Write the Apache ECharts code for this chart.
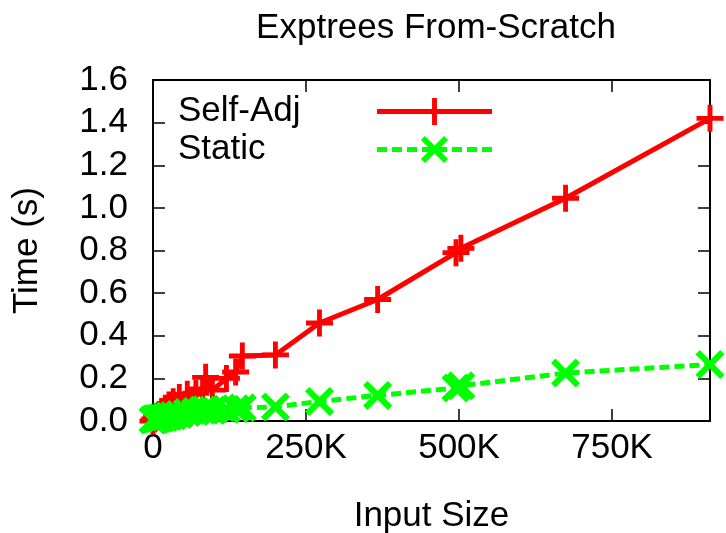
<!DOCTYPE html>
<html>
<head>
<meta charset="utf-8">
<script src="https://cdn.jsdelivr.net/npm/echarts@6/dist/echarts.min.js"></script>
<style>html,body{margin:0;padding:0;background:#fff}#c{width:726px;height:533px}</style>
</head>
<body>
<div id="c"></div>
<script>
// Data
var titleText = 'Exptrees From-Scratch';
var xName = 'Input Size';
var yName = 'Time (s)';
var seriesNames = ['Self-Adj', 'Static'];
var xTicks = [0, 250000, 500000, 750000];
var yTicks = ['0.0','0.2','0.4','0.6','0.8','1.0','1.2','1.4','1.6'];

var selfAdjX = [0, 3000, 6000, 10000, 14000, 20000, 26000, 33000, 43000, 56000, 70000, 81000, 86000, 97000, 120000, 135000, 146000, 200000, 272000, 367000, 495000, 503000, 674000, 910000];
var selfAdjY = [0.0, 0.01, 0.02, 0.03, 0.045, 0.06, 0.075, 0.09, 0.11, 0.125, 0.13, 0.15, 0.205, 0.145, 0.2, 0.23, 0.305, 0.31, 0.46, 0.57, 0.79, 0.81, 1.045, 1.42];

var staticX = [0, 3000, 6000, 10000, 14000, 20000, 26000, 33000, 43000, 56000, 70000, 81000, 86000, 97000, 120000, 135000, 146000, 200000, 272000, 367000, 495000, 503000, 674000, 910000];
var staticY = [0.005, 0.008, 0.01, 0.012, 0.015, 0.018, 0.022, 0.025, 0.03, 0.04, 0.045, 0.05, 0.052, 0.05, 0.055, 0.058, 0.062, 0.066, 0.092, 0.12, 0.155, 0.165, 0.225, 0.265];

var xMax = 910000;

function zip(xs, ys) { return xs.map(function (x, i) { return [x, ys[i]]; }); }

var FONT = '"Liberation Sans", Arial, sans-serif';
var FS = 35;
var plusPath = 'path://M41,0 L59,0 L59,41 L100,41 L100,59 L59,59 L59,100 L41,100 L41,59 L0,59 L0,41 L41,41 Z';
var crossPath = 'path://M0,15 L15,0 L50,35 L85,0 L100,15 L65,50 L100,85 L85,100 L50,65 L15,100 L0,85 L35,50 Z';

var chart = echarts.init(document.getElementById('c'), null, {renderer: 'canvas'});

function axisCommon() {
  return {
    axisLine: {show: true, onZero: false, lineStyle: {color: '#000', width: 2}},
    axisTick: {show: true, inside: true, length: 12, lineStyle: {color: '#000', width: 1.5}},
    splitLine: {show: false}
  };
}

chart.setOption({
  backgroundColor: '#fff',
  animation: false,
  title: {
    text: titleText,
    left: 431, top: 6, textAlign: 'center',
    textStyle: {fontFamily: FONT, fontSize: FS, fontWeight: 'normal', color: '#000'}
  },
  grid: {left: 153, right: 16, top: 80, bottom: 112, containLabel: false, outerBoundsMode: 'none'},
  legend: {
    left: 178, top: 94, orient: 'vertical', align: 'right', padding: 0,
    itemWidth: 115, itemHeight: 34, itemGap: 3,
    data: seriesNames,
    lineStyle: {width: 5},
    formatter: function (n) { return '{t|' + n + '}'; },
    textStyle: {
      fontFamily: FONT, fontSize: FS, color: '#000',
      rich: {t: {width: 194, align: 'left', fontFamily: FONT, fontSize: FS, color: '#000'}}
    }
  },
  xAxis: [
    Object.assign(axisCommon(), {
      type: 'value', position: 'bottom', min: 0, max: xMax, interval: 250000,
      name: xName, nameLocation: 'middle', nameGap: 78,
      nameTextStyle: {fontFamily: FONT, fontSize: FS, color: '#000'},
      axisLabel: {
        show: true, margin: 10, color: '#000', fontFamily: FONT, fontSize: FS,
        showMaxLabel: false,
        formatter: function (v) {
          if (xTicks.indexOf(v) < 0) return '';
          return v === 0 ? '0' : (v / 1000) + 'K';
        }
      }
    }),
    Object.assign(axisCommon(), {
      type: 'value', position: 'top', min: 0, max: xMax, interval: 250000,
      axisLabel: {show: false}
    })
  ],
  yAxis: [
    Object.assign(axisCommon(), {
      type: 'value', position: 'left', min: 0, max: 1.6, interval: 0.2,
      name: yName, nameLocation: 'middle', nameGap: 108, nameRotate: 90,
      nameTextStyle: {fontFamily: FONT, fontSize: FS, color: '#000'},
      axisLabel: {
        show: true, margin: 25, color: '#000', fontFamily: FONT, fontSize: FS,
        formatter: function (v) { return yTicks[Math.round(v / 0.2)]; }
      }
    }),
    Object.assign(axisCommon(), {
      type: 'value', position: 'right', min: 0, max: 1.6, interval: 0.2,
      axisLabel: {show: false}
    })
  ],
  series: [
    {
      name: seriesNames[0], type: 'line', xAxisIndex: 0, yAxisIndex: 0,
      data: zip(selfAdjX, selfAdjY),
      symbol: plusPath, symbolSize: 27, clip: false,
      lineStyle: {color: '#ff0000', width: 5},
      itemStyle: {color: '#ff0000'},
      z: 2
    },
    {
      name: seriesNames[1], type: 'line', xAxisIndex: 0, yAxisIndex: 0,
      data: zip(staticX, staticY),
      symbol: crossPath, symbolSize: 29, clip: false,
      lineStyle: {color: '#00ff00', width: 5, type: [10, 5]},
      itemStyle: {color: '#00ff00'},
      z: 3
    }
  ]
});
</script>
</body>
</html>
